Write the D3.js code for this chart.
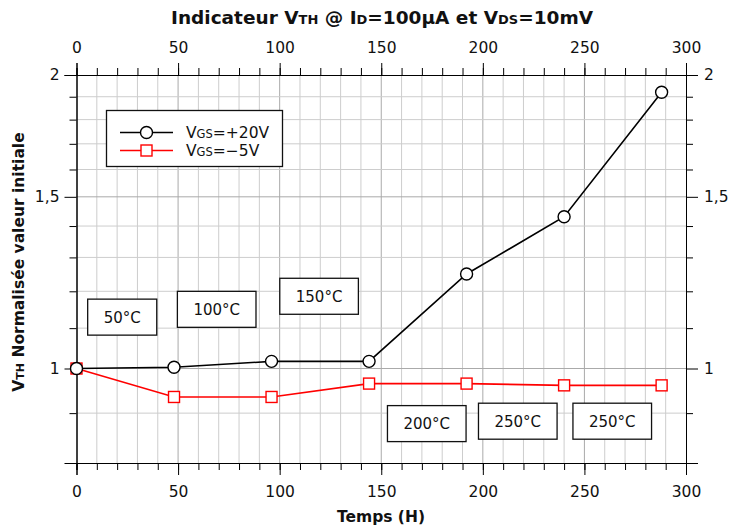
<!DOCTYPE html>
<html>
<head>
<meta charset="utf-8">
<script src="https://cdn.jsdelivr.net/npm/d3@7"></script>
<style>
  body { margin: 0; background: #fff; }
  svg { display: block; font-family: "DejaVu Sans", sans-serif; }
</style>
</head>
<body>
<svg id="chart" width="729" height="529"></svg>
<script>
// Measurement times (hours)
const hours = [0, 48, 96, 144, 192, 240, 288];
// Normalised threshold voltage for each gate stress
const vgsPlus20 = [1.0, 1.003, 1.017, 1.017, 1.25, 1.431, 1.92];
const vgsMinus5 = [1.0, 0.935, 0.935, 0.965, 0.965, 0.961, 0.961];
const seriesNames = ["+20V", "\u22125V"];

// Tick values
const xMajorTicks = [0, 50, 100, 150, 200, 250, 300];
const xMinorTicks = d3.range(0, 301, 10);
const yMajorTicks = [1, 1.5, 2];
const yMinorTicks = [0.9, 1.1, 1.2, 1.3, 1.4, 1.6, 1.7, 1.8, 1.9];

// Temperature step labels and their anchors (hours, normalised value)
const stepLabels = ["50°C", "100°C", "150°C", "200°C", "250°C", "250°C"];
const stepAnchorsX = [22.5, 69, 119.4, 172.4, 217.2, 263.7];
const stepAnchorsY = [1.129, 1.15, 1.186, 0.878, 0.883, 0.883];

const svg = d3.select("#chart");
const plotL = 76.5, plotR = 686, plotT = 75, plotB = 463;

const x = d3.scaleLinear().domain([0, 300]).range([plotL, plotR]);
const y = d3.scaleLog().domain([0.8, 2]).range([plotB, plotT]);
const fmt = d => String(d).replace(".", ",");

// Grid
const grid = svg.append("g");
grid.selectAll("line.vx").data(xMinorTicks.filter(d => d > 0 && d < 300)).join("line")
  .attr("x1", d => x(d)).attr("x2", d => x(d)).attr("y1", plotT).attr("y2", plotB)
  .attr("stroke", d => d % 50 === 0 ? "#aaaaaa" : "#cdcdcd").attr("stroke-width", 1);
grid.selectAll("line.hy").data(yMinorTicks.concat([1, 1.5])).join("line")
  .attr("x1", plotL).attr("x2", plotR).attr("y1", d => y(d)).attr("y2", d => y(d))
  .attr("stroke", d => yMajorTicks.includes(d) ? "#aaaaaa" : "#cdcdcd").attr("stroke-width", 1);

// Axes: major ticks with labels, minor ticks without
function addAxis(gen, transform, majors, minors, labelled) {
  const gMin = svg.append("g").attr("transform", transform)
    .call(gen(minors).tickSize(7).tickFormat(""));
  gMin.select(".domain").attr("stroke", "#000");
  const gMaj = svg.append("g").attr("transform", transform)
    .call(gen(majors).tickSize(12).tickPadding(labelled.pad).tickFormat(labelled.fmt));
  gMaj.selectAll("text").attr("font-size", 15.5).attr("fill", "#111")
    .attr("font-family", "DejaVu Sans, sans-serif");
  gMaj.selectAll(".domain").attr("stroke", "#000");
  gMaj.selectAll(".tick line").attr("stroke", "#000");
  gMin.selectAll(".tick line").attr("stroke", "#000");
}
addAxis(v => d3.axisBottom(x).tickValues(v), `translate(0,${plotB})`, xMajorTicks, xMinorTicks, {pad: 11, fmt: d3.format("d")});
addAxis(v => d3.axisTop(x).tickValues(v), `translate(0,${plotT})`, xMajorTicks, xMinorTicks, {pad: 10, fmt: d3.format("d")});
addAxis(v => d3.axisLeft(y).tickValues(v), `translate(${plotL},0)`, yMajorTicks, yMinorTicks, {pad: 5, fmt: fmt});
addAxis(v => d3.axisRight(y).tickValues(v), `translate(${plotR},0)`, yMajorTicks, yMinorTicks, {pad: 6, fmt: fmt});

// Temperature step boxes
const steps = svg.append("g");
stepLabels.forEach((lab, i) => {
  const cx = x(stepAnchorsX[i]), cy = y(stepAnchorsY[i]);
  const g = steps.append("g");
  const t = g.append("text").attr("x", cx).attr("y", cy + 5.5).attr("text-anchor", "middle")
    .attr("font-size", 15).attr("fill", "#111").text(lab);
  const w = t.node().getComputedTextLength() + 32;
  g.insert("rect", "text").attr("x", cx - w / 2).attr("y", cy - 18).attr("width", w).attr("height", 36)
    .attr("fill", "#fff").attr("stroke", "#111").attr("stroke-width", 1.3);
});

// Series
const line = d3.line().x((d, i) => x(hours[i])).y(d => y(d));
svg.append("path").datum(vgsPlus20).attr("d", line).attr("fill", "none")
  .attr("stroke", "#000").attr("stroke-width", 1.6);
svg.append("path").datum(vgsMinus5).attr("d", line).attr("fill", "none")
  .attr("stroke", "#ff0000").attr("stroke-width", 1.6);
svg.append("g").selectAll("rect").data(vgsMinus5).join("rect")
  .attr("x", (d, i) => x(hours[i]) - 5.5).attr("y", d => y(d) - 5.5)
  .attr("width", 11).attr("height", 11)
  .attr("fill", "#fff").attr("stroke", "#ff0000").attr("stroke-width", 1.4);
svg.append("g").selectAll("circle").data(vgsPlus20).join("circle")
  .attr("cx", (d, i) => x(hours[i])).attr("cy", d => y(d)).attr("r", 6)
  .attr("fill", "#fff").attr("stroke", "#000").attr("stroke-width", 1.4);

// Legend
const lg = svg.append("g");
lg.append("rect").attr("x", 106.5).attr("y", 110.5).attr("width", 176).attr("height", 56)
  .attr("fill", "#fff").attr("stroke", "#111").attr("stroke-width", 1.3);
const legendRows = [{c: "#000", shape: "circle", yy: 132.5}, {c: "#ff0000", shape: "rect", yy: 150.5}];
legendRows.forEach((r, i) => {
  lg.append("line").attr("x1", 120).attr("x2", 173).attr("y1", r.yy).attr("y2", r.yy)
    .attr("stroke", r.c).attr("stroke-width", 1.6);
  if (r.shape === "circle") {
    lg.append("circle").attr("cx", 146.5).attr("cy", r.yy).attr("r", 6)
      .attr("fill", "#fff").attr("stroke", r.c).attr("stroke-width", 1.4);
  } else {
    lg.append("rect").attr("x", 141).attr("y", r.yy - 5.5).attr("width", 11).attr("height", 11)
      .attr("fill", "#fff").attr("stroke", r.c).attr("stroke-width", 1.4);
  }
  const t = lg.append("text").attr("x", 186).attr("y", r.yy + 5.5).attr("font-size", 15.5).attr("fill", "#111");
  t.append("tspan").text("V");
  t.append("tspan").attr("font-size", 11.5).text("GS");
  t.append("tspan").text("=" + seriesNames[i]);
});

// Title
const title = svg.append("text").attr("x", 382).attr("y", 24).attr("text-anchor", "middle")
  .attr("font-size", 18.5).attr("font-weight", "bold").attr("fill", "#111");
[["Indicateur V", 0], ["TH", 1], [" @ I", 0], ["D", 1], ["=100µA et V", 0], ["DS", 1], ["=10mV", 0]]
  .forEach(([s, sub]) => title.append("tspan").attr("font-size", sub ? 13 : 18.5).text(s));

// X axis title
svg.append("text").attr("x", 381).attr("y", 522).attr("text-anchor", "middle")
  .attr("font-size", 15.5).attr("font-weight", "bold").attr("fill", "#111").text("Temps (H)");

// Y axis title
const yt = svg.append("text").attr("transform", "translate(24,262) rotate(-90)")
  .attr("text-anchor", "middle").attr("font-size", 15.5).attr("font-weight", "bold").attr("fill", "#111");
yt.append("tspan").text("V");
yt.append("tspan").attr("font-size", 11).text("TH");
yt.append("tspan").text(" Normalisée valeur initiale");
</script>
</body>
</html>
